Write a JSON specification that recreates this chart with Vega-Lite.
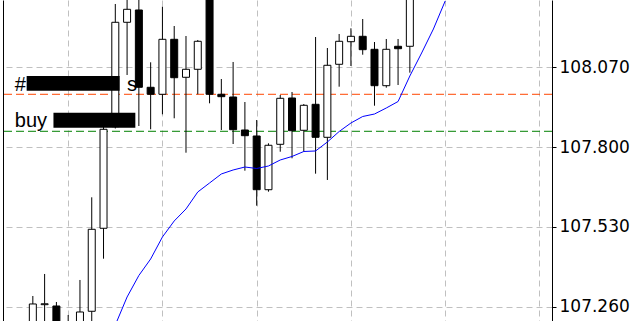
{
  "$schema": "https://vega.github.io/schema/vega-lite/v6.json",
  "width": 549,
  "height": 321,
  "autosize": {"type": "none"},
  "padding": {"left": 3, "top": 0, "right": 88, "bottom": 0},
  "background": "white",
  "config": {"view": {"stroke": null}},
  "datasets": {
    "candles": [
      {"i": 2, "open": 107.1644, "high": 107.2963, "low": 107.1306, "close": 107.2693},
      {"i": 3, "open": 107.2669, "high": 107.3708, "low": 107.1813, "close": 107.2700},
      {"i": 4, "open": 107.2625, "high": 107.2760, "low": 107.1137, "close": 107.1475},
      {"i": 5, "open": 107.1644, "high": 107.2321, "low": 107.1306, "close": 107.2084},
      {"i": 6, "open": 107.1813, "high": 107.3505, "low": 107.1475, "close": 107.2422},
      {"i": 7, "open": 107.2446, "high": 107.6302, "low": 107.1813, "close": 107.5220},
      {"i": 8, "open": 107.5254, "high": 107.8691, "low": 107.4225, "close": 107.8603},
      {"i": 9, "open": 107.8691, "high": 108.2842, "low": 107.8630, "close": 108.2223},
      {"i": 10, "open": 108.2223, "high": 108.3146, "low": 108.0440, "close": 108.2662},
      {"i": 11, "open": 108.2639, "high": 108.3315, "low": 107.8714, "close": 108.0024},
      {"i": 12, "open": 108.0024, "high": 108.0869, "low": 107.8603, "close": 107.9787},
      {"i": 13, "open": 107.9787, "high": 108.2750, "low": 107.9110, "close": 108.1647},
      {"i": 14, "open": 108.1647, "high": 108.2097, "low": 107.8975, "close": 108.0348},
      {"i": 15, "open": 108.0362, "high": 108.1759, "low": 107.7811, "close": 108.0633},
      {"i": 16, "open": 108.0633, "high": 108.1624, "low": 107.9787, "close": 108.1580},
      {"i": 17, "open": 108.3315, "high": 108.3484, "low": 107.9482, "close": 107.9787},
      {"i": 18, "open": 107.9787, "high": 108.0304, "low": 107.8579, "close": 107.9706},
      {"i": 19, "open": 107.9695, "high": 108.0880, "low": 107.8105, "close": 107.8589},
      {"i": 20, "open": 107.8579, "high": 107.9526, "low": 107.7202, "close": 107.8386},
      {"i": 21, "open": 107.8376, "high": 107.8917, "low": 107.6018, "close": 107.6559},
      {"i": 22, "open": 107.6559, "high": 107.8129, "low": 107.6492, "close": 107.8062},
      {"i": 23, "open": 107.8095, "high": 107.9763, "low": 107.7845, "close": 107.9651},
      {"i": 24, "open": 107.9662, "high": 107.9865, "low": 107.7622, "close": 107.8555},
      {"i": 25, "open": 107.8569, "high": 107.9459, "low": 107.7845, "close": 107.9415},
      {"i": 26, "open": 107.9448, "high": 108.1725, "low": 107.7101, "close": 107.8332},
      {"i": 27, "open": 107.8332, "high": 108.1353, "low": 107.6888, "close": 108.0768},
      {"i": 28, "open": 108.0802, "high": 108.1827, "low": 108.0044, "close": 108.1580},
      {"i": 29, "open": 108.1566, "high": 108.2020, "low": 108.0744, "close": 108.1749},
      {"i": 30, "open": 108.1749, "high": 108.2334, "low": 108.1126, "close": 108.1296},
      {"i": 31, "open": 108.1309, "high": 108.1556, "low": 107.9401, "close": 108.0078},
      {"i": 32, "open": 108.0078, "high": 108.1658, "low": 108.0010, "close": 108.1309},
      {"i": 33, "open": 108.1411, "high": 108.1658, "low": 108.0101, "close": 108.1329},
      {"i": 34, "open": 108.1411, "high": 108.3992, "low": 108.0518, "close": 108.3654}
    ],
    "ma": [
      {"i": 9, "ma": 107.1982}, {"i": 10, "ma": 107.2929}, {"i": 11, "ma": 107.3657},
      {"i": 12, "ma": 107.4215}, {"i": 13, "ma": 107.4959}, {"i": 14, "ma": 107.5501},
      {"i": 15, "ma": 107.5907}, {"i": 16, "ma": 107.6482}, {"i": 17, "ma": 107.6786},
      {"i": 18, "ma": 107.7091}, {"i": 19, "ma": 107.7226}, {"i": 20, "ma": 107.7327},
      {"i": 21, "ma": 107.7277}, {"i": 22, "ma": 107.7361}, {"i": 23, "ma": 107.7564},
      {"i": 24, "ma": 107.7683}, {"i": 25, "ma": 107.7852}, {"i": 26, "ma": 107.7869},
      {"i": 27, "ma": 107.8173}, {"i": 28, "ma": 107.8528}, {"i": 29, "ma": 107.8816},
      {"i": 30, "ma": 107.9036}, {"i": 31, "ma": 107.9120}, {"i": 32, "ma": 107.9323},
      {"i": 33, "ma": 107.9543}, {"i": 34, "ma": 108.0406}, {"i": 35, "ma": 108.1184},
      {"i": 36, "ma": 108.1996}, {"i": 37, "ma": 108.2943}
    ],
    "levels": [
      {"name": "sell", "price": 107.9787},
      {"name": "buy", "price": 107.8535}
    ],
    "labels": [
      {"i": 0.475, "price": 107.9909, "label": "#"},
      {"i": 10.0, "price": 107.9909, "label": "s"},
      {"i": 0.475, "price": 107.8691, "label": "buy"}
    ],
    "boxes": [
      {"x1": 1.475, "x2": 9.367, "y1": 108.0406, "y2": 107.9909},
      {"x1": 3.75, "x2": 10.7, "y1": 107.9164, "y2": 107.8657}
    ]
  },
  "resolve": {"axis": {"y": "independent"}},
  "layer": [
    {
      "data": {"name": "levels"},
      "transform": [{"filter": "datum.name == 'sell'"}],
      "mark": {"type": "rule", "color": "#ff4500", "strokeWidth": 1, "strokeDash": [8, 4]},
      "encoding": {
        "y": {"field": "price", "type": "quantitative", "scale": {"domain": [107.2117, 108.2977], "nice": false, "zero": false},
          "axis": {"orient": "right", "values": [107.26, 107.53, 107.8, 108.07], "format": ".3f", "title": null,
            "grid": true, "gridColor": "#c0c0c0", "gridDash": [6, 4], "gridWidth": 1,
            "domain": true, "domainColor": "black", "domainWidth": 1,
            "ticks": true, "tickColor": "black", "tickSize": 4,
            "labelFont": "DejaVu Sans", "labelFontSize": 17, "labelColor": "black", "labelPadding": 3}}
      }
    },
    {
      "data": {"name": "levels"},
      "transform": [{"filter": "datum.name == 'buy'"}],
      "mark": {"type": "rule", "color": "#008000", "strokeWidth": 1, "strokeDash": [8, 4]},
      "encoding": {
        "y": {"field": "price", "type": "quantitative", "scale": {"domain": [107.2117, 108.2977], "nice": false, "zero": false},
          "axis": {"orient": "left", "labels": false, "ticks": false, "grid": false, "title": null, "domain": true, "domainColor": "black", "domainWidth": 1}}
      }
    },
    {
      "data": {"name": "candles"},
      "mark": {"type": "rule", "color": "black", "strokeWidth": 1, "clip": true},
      "encoding": {
        "x": {"field": "i", "type": "quantitative", "scale": {"domain": [-0.1083, 45.6417], "nice": false, "zero": false},
          "axis": {"values": [5, 13, 21, 29, 37, 45], "labels": false, "ticks": false, "domain": false, "title": null, "grid": true, "gridColor": "#c0c0c0", "gridDash": [6, 4], "gridWidth": 1}},
        "y": {"field": "low", "type": "quantitative", "scale": {"domain": [107.2117, 108.2977], "nice": false, "zero": false}, "axis": null},
        "y2": {"field": "high"}
      }
    },
    {
      "data": {"name": "candles"},
      "mark": {"type": "bar", "size": 7, "stroke": "black", "strokeWidth": 1, "clip": true},
      "encoding": {
        "x": {"field": "i", "type": "quantitative", "scale": {"domain": [-0.1083, 45.6417], "nice": false, "zero": false}},
        "y": {"field": "open", "type": "quantitative", "scale": {"domain": [107.2117, 108.2977], "nice": false, "zero": false}, "axis": null},
        "y2": {"field": "close"},
        "fill": {"condition": {"test": "datum.close >= datum.open", "value": "white"}, "value": "black"}
      }
    },
    {
      "data": {"name": "ma"},
      "mark": {"type": "line", "color": "#0000ff", "strokeWidth": 1, "clip": true},
      "encoding": {
        "x": {"field": "i", "type": "quantitative", "scale": {"domain": [-0.1083, 45.6417], "nice": false, "zero": false}},
        "y": {"field": "ma", "type": "quantitative", "scale": {"domain": [107.2117, 108.2977], "nice": false, "zero": false}, "axis": null}
      }
    },
    {
      "data": {"name": "boxes"},
      "mark": {"type": "rect", "color": "black"},
      "encoding": {
        "x": {"field": "x1", "type": "quantitative", "scale": {"domain": [-0.1083, 45.6417], "nice": false, "zero": false}},
        "x2": {"field": "x2"},
        "y": {"field": "y1", "type": "quantitative", "scale": {"domain": [107.2117, 108.2977], "nice": false, "zero": false}, "axis": null},
        "y2": {"field": "y2"}
      }
    },
    {
      "data": {"name": "labels"},
      "mark": {"type": "text", "align": "left", "baseline": "alphabetic", "font": "Liberation Sans", "fontSize": 20, "color": "black"},
      "encoding": {
        "x": {"field": "i", "type": "quantitative", "scale": {"domain": [-0.1083, 45.6417], "nice": false, "zero": false}},
        "y": {"field": "price", "type": "quantitative", "scale": {"domain": [107.2117, 108.2977], "nice": false, "zero": false}, "axis": null},
        "text": {"field": "label"}
      }
    }
  ]
}
